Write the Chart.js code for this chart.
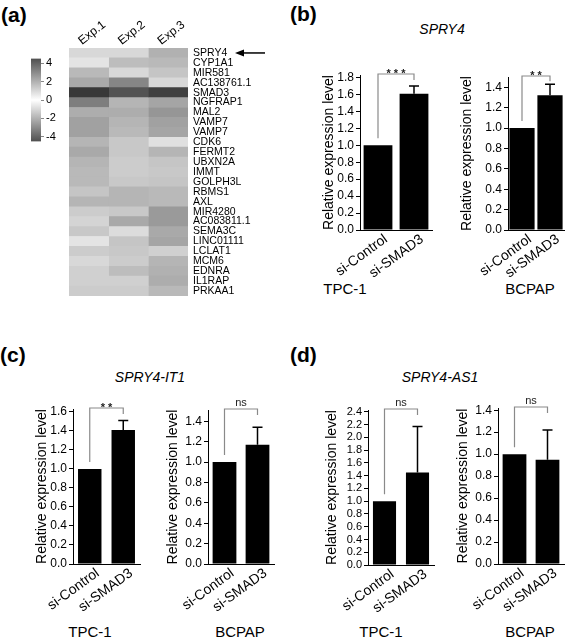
<!DOCTYPE html>
<html>
<head>
<meta charset="utf-8">
<script src="https://cdn.jsdelivr.net/npm/chart.js@4.4.1/dist/chart.umd.min.js"></script>
<style>
  body { margin: 0; background: #fff; }
  #fig { position: relative; width: 566px; height: 642px; overflow: hidden; font-family: Arial, "Liberation Sans", sans-serif; color: #000; }
  canvas { position: absolute; }
  .lbl { position: absolute; white-space: nowrap; line-height: 1; }
  .pl { font-weight: bold; font-size: 21px; }
  .ttl { font-style: italic; font-size: 14px; transform: translateX(-50%); }
  .cl { font-size: 15px; transform: translateX(-50%); }
</style>
</head>
<body>
<div id="fig">
  <div class="lbl pl" style="left:1px;top:4px">(a)</div>
  <div class="lbl pl" style="left:290px;top:3px">(b)</div>
  <div class="lbl pl" style="left:0px;top:344px">(c)</div>
  <div class="lbl pl" style="left:290px;top:344px">(d)</div>

  <div class="lbl ttl" style="left:442px;top:22px">SPRY4</div>
  <div class="lbl ttl" style="left:150px;top:370px">SPRY4-IT1</div>
  <div class="lbl ttl" style="left:440px;top:370px">SPRY4-AS1</div>

  <div class="lbl cl" style="left:345px;top:281px">TPC-1</div>
  <div class="lbl cl" style="left:530px;top:281px">BCPAP</div>
  <div class="lbl cl" style="left:90px;top:624px">TPC-1</div>
  <div class="lbl cl" style="left:240px;top:624px">BCPAP</div>
  <div class="lbl cl" style="left:381px;top:624px">TPC-1</div>
  <div class="lbl cl" style="left:530px;top:624px">BCPAP</div>

  <canvas id="colorbar"></canvas>
  <canvas id="heat"></canvas>
  <canvas id="b1"></canvas>
  <canvas id="b2"></canvas>
  <canvas id="c1"></canvas>
  <canvas id="c2"></canvas>
  <canvas id="d1"></canvas>
  <canvas id="d2"></canvas>
</div>

<script>
// ---- heatmap data (a) ----
const genes = ["SPRY4", "CYP1A1", "MIR581", "AC138761.1", "SMAD3", "NGFRAP1", "MAL2", "VAMP7", "VAMP7",
  "CDK6", "FERMT2", "UBXN2A", "IMMT", "GOLPH3L", "RBMS1", "AXL", "MIR4280", "AC083811.1", "SEMA3C",
  "LINC01111", "LCLAT1", "MCM6", "EDNRA", "IL1RAP", "PRKAA1"];
const exps = ["Exp.1", "Exp.2", "Exp.3"];
const exp1 = [1.0, 0.7, 1.8, 2.2, -5.1, 3.3, 2.1, 2.4, 2.4, 1.9, 2.2, 1.9, 1.8, 1.8, 1.5, 1.9, 1.3, 1.1, 1.4, 0.7, 1.3, 1.0, 1.2, 1.2, 1.3];
const exp2 = [1.0, 1.7, 1.0, 3.1, -4.4, 1.9, 2.1, 1.9, 1.8, 1.4, 1.4, 1.3, 1.3, 1.4, 1.9, 1.9, 1.4, 2.2, 0.9, 1.5, 1.4, 1.3, 1.7, 1.2, 1.3];
const exp3 = [2.0, 1.8, 1.5, 1.0, -4.9, 2.3, 2.7, 2.4, 2.3, 0.8, 1.9, 1.5, 1.4, 1.5, 1.8, 1.8, 2.6, 2.6, 2.2, 2.3, 1.2, 1.9, 2.0, 2.1, 1.8];
const heat = [exp1, exp2, exp3];
const cbRange = [-4.5, 4.5];
const cbTicks = [-4, -2, 0, 2, 4];

// ---- qPCR bars (b)-(d) ----
const groups = ["si-Control", "si-SMAD3"];
const spry4TPC = [1.00, 1.61],   spry4TPCErr = [0, 0.09];
const spry4BCPAP = [1.00, 1.32], spry4BCPAPErr = [0, 0.11];
const it1TPC = [1.00, 1.41],     it1TPCErr = [0, 0.10];
const it1BCPAP = [1.00, 1.17],   it1BCPAPErr = [0, 0.17];
const as1TPC = [1.00, 1.45],     as1TPCErr = [0, 0.72];
const as1BCPAP = [1.00, 0.95],   as1BCPAPErr = [0, 0.27];

const FONT = 'Arial, "Liberation Sans", sans-serif';
Chart.defaults.font.family = FONT;
Chart.defaults.color = '#000';

function gray(v) {
  const g = Math.max(45, Math.round(255 - 39 * Math.abs(v)));
  return `rgb(${g},${g},${g})`;
}

function place(id, left, top, w, h) {
  const cv = document.getElementById(id);
  cv.width = w; cv.height = h;
  cv.style.left = left + 'px'; cv.style.top = top + 'px';
  return cv;
}

// colorbar
new Chart(place('colorbar', 20, 50, 45, 100), {
  type: 'bar',
  data: {
    labels: [''],
    datasets: [{
      data: [cbRange],
      borderWidth: 0, barPercentage: 1, categoryPercentage: 1,
      backgroundColor: (c) => {
        const area = c.chart.chartArea;
        if (!area) return '#999';
        const g = c.chart.ctx.createLinearGradient(0, area.top, 0, area.bottom);
        g.addColorStop(0, gray(cbRange[1]));
        g.addColorStop(0.5, '#fff');
        g.addColorStop(1, gray(cbRange[0]));
        return g;
      }
    }]
  },
  options: {
    responsive: false, animation: false,
    layout: { padding: { left: 11, top: 7, right: 0, bottom: 6 } },
    plugins: { legend: { display: false }, tooltip: { enabled: false } },
    scales: {
      x: { display: false },
      y: {
        position: 'right', min: cbRange[0], max: cbRange[1],
        afterBuildTicks: s => { s.ticks = cbTicks.map(v => ({ value: v })); },
        ticks: { font: { size: 11 }, padding: 2 },
        grid: { display: true, drawOnChartArea: false, tickLength: 3, color: '#888' },
        border: { display: false },
        afterFit: s => { s.width = 24; }
      }
    }
  }
});

// arrow next to SPRY4
const arrowPlugin = {
  id: 'arrow',
  afterDraw(chart) {
    const { ctx, chartArea, scales } = chart;
    const y = scales.y.getPixelForValue(0);
    const x0 = chartArea.right + 47, x1 = chartArea.right + 77;
    ctx.save();
    ctx.strokeStyle = '#000'; ctx.fillStyle = '#000'; ctx.lineWidth = 1.5;
    ctx.beginPath(); ctx.moveTo(x0 + 6, y); ctx.lineTo(x1, y); ctx.stroke();
    ctx.beginPath(); ctx.moveTo(x0, y); ctx.lineTo(x0 + 9, y - 3.5); ctx.lineTo(x0 + 9, y + 3.5); ctx.closePath(); ctx.fill();
    ctx.restore();
  }
};

// heatmap
new Chart(place('heat', 60, 0, 215, 305), {
  type: 'bar',
  data: {
    labels: genes,
    datasets: exps.map((e, i) => ({
      label: e,
      data: genes.map(() => 1),
      backgroundColor: heat[i].map(gray),
      borderWidth: 0, barPercentage: 1, categoryPercentage: 1
    }))
  },
  options: {
    indexAxis: 'y', responsive: false, animation: false,
    layout: { padding: { left: 9, top: 0, right: 0, bottom: 9 } },
    plugins: { legend: { display: false }, tooltip: { enabled: false } },
    scales: {
      x: {
        type: 'linear', position: 'top', stacked: true, min: 0, max: exps.length,
        grid: { display: false, drawTicks: false }, border: { display: false },
        afterBuildTicks: s => { s.ticks = exps.map((e, i) => ({ value: i + 0.5 })); },
        ticks: { callback: (v, i) => exps[i], minRotation: 38, maxRotation: 38, font: { size: 12 }, padding: 0 },
        afterFit: s => { s.height = 48; s.paddingLeft = 0; s.paddingRight = 0; }
      },
      y: {
        position: 'right', stacked: true,
        grid: { display: false, drawTicks: false }, border: { display: false },
        ticks: { font: { size: 10.5 }, padding: 5, autoSkip: false },
        afterFit: s => { s.width = 87; s.paddingTop = 0; s.paddingBottom = 0; }
      }
    }
  },
  plugins: [arrowPlugin]
});

// error bars + significance bracket
const errSig = {
  id: 'errSig',
  afterDatasetsDraw(chart, args, opts) {
    const { ctx, chartArea, scales: { x, y } } = chart;
    const vals = chart.data.datasets[0].data;
    const errs = opts.errors;
    ctx.save();
    ctx.strokeStyle = '#000'; ctx.lineWidth = 1.5;
    vals.forEach((v, i) => {
      if (!errs[i]) return;
      const px = x.getPixelForValue(i);
      const y0 = y.getPixelForValue(v), y1 = y.getPixelForValue(v + errs[i]);
      ctx.beginPath();
      ctx.moveTo(px, y0); ctx.lineTo(px, y1);
      ctx.moveTo(px - 5, y1); ctx.lineTo(px + 5, y1);
      ctx.stroke();
    });
    const xl = x.getPixelForValue(0), xr = x.getPixelForValue(1);
    const top = chartArea.top - 1;
    const lb = y.getPixelForValue(vals[0]) - 7;
    const rb = Math.min(top + 6, y.getPixelForValue(vals[1] + errs[1]) - 3);
    ctx.strokeStyle = '#8a8a8a'; ctx.lineWidth = 1.2;
    ctx.beginPath();
    ctx.moveTo(xl, lb); ctx.lineTo(xl, top); ctx.lineTo(xr, top); ctx.lineTo(xr, rb);
    ctx.stroke();
    ctx.fillStyle = '#222'; ctx.textAlign = 'center'; ctx.textBaseline = 'alphabetic';
    if (opts.sig === 'ns') {
      ctx.font = '11px ' + FONT;
      ctx.fillText('ns', (xl + xr) / 2, top - 3);
    } else {
      ctx.font = 'bold 11px ' + FONT;
      ctx.fillText(opts.sig.split('').join(' '), (xl + xr) / 2, top + 3);
    }
    ctx.restore();
  }
};

function barChart(id, box, area, values, errors, max, bp, sig, tickSize) {
  const [left, top, w, h] = box;
  new Chart(place(id, left, top, w, h), {
    type: 'bar',
    data: {
      labels: groups,
      datasets: [{ data: values, backgroundColor: '#000', borderWidth: 0, barPercentage: bp, categoryPercentage: 1 }]
    },
    options: {
      responsive: false, animation: false,
      layout: { padding: { left: 0, top: area.top - top, right: left + w - area.right, bottom: 0 } },
      plugins: { legend: { display: false }, tooltip: { enabled: false }, errSig: { errors, sig } },
      scales: {
        x: {
          grid: { display: false, drawTicks: false },
          border: { display: true, color: '#000', width: 1 },
          ticks: { font: { size: 14 }, minRotation: 36, maxRotation: 36, autoSkip: false, padding: 1, labelOffset: 8 },
          afterFit: s => { s.height = top + h - area.bottom; s.paddingLeft = 0; s.paddingRight = 0; }
        },
        y: {
          min: 0, max,
          ticks: { stepSize: 0.2, includeBounds: false, autoSkip: false, font: { size: tickSize || 12 }, padding: 2, callback: v => v.toFixed(1) },
          grid: { display: true, drawOnChartArea: false, drawTicks: true, tickLength: 4, color: '#000' },
          border: { display: true, color: '#000', width: 1 },
          title: { display: true, text: 'Relative expression level', font: { size: 14, lineHeight: 1.2 }, padding: 0 },
          afterFit: s => { s.width = area.left - left; s.paddingTop = 0; s.paddingBottom = 0; }
        }
      }
    },
    plugins: [errSig]
  });
}

barChart('b1', [321, 50, 119, 245], { left: 360, top: 75, right: 432, bottom: 230 }, spry4TPC, spry4TPCErr, 1.83, 0.8, '***');
barChart('b2', [459, 50, 107, 245], { left: 508, top: 77, right: 564, bottom: 230 }, spry4BCPAP, spry4BCPAPErr, 1.5, 0.9, '**');
barChart('c1', [34, 390, 116, 240], { left: 73, top: 409, right: 140, bottom: 564 }, it1TPC, it1TPCErr, 1.63, 0.7, '**');
barChart('c2', [165, 390, 120, 240], { left: 208, top: 410, right: 274, bottom: 564 }, it1BCPAP, it1BCPAPErr, 1.51, 0.72, 'ns');
barChart('d1', [324, 390, 121, 240], { left: 368, top: 410, right: 434, bottom: 565 }, as1TPC, as1TPCErr, 2.43, 0.7, 'ns', 11);
barChart('d2', [455, 390, 111, 240], { left: 498, top: 408, right: 564, bottom: 564 }, as1BCPAP, as1BCPAPErr, 1.42, 0.72, 'ns');
</script>
</body>
</html>
